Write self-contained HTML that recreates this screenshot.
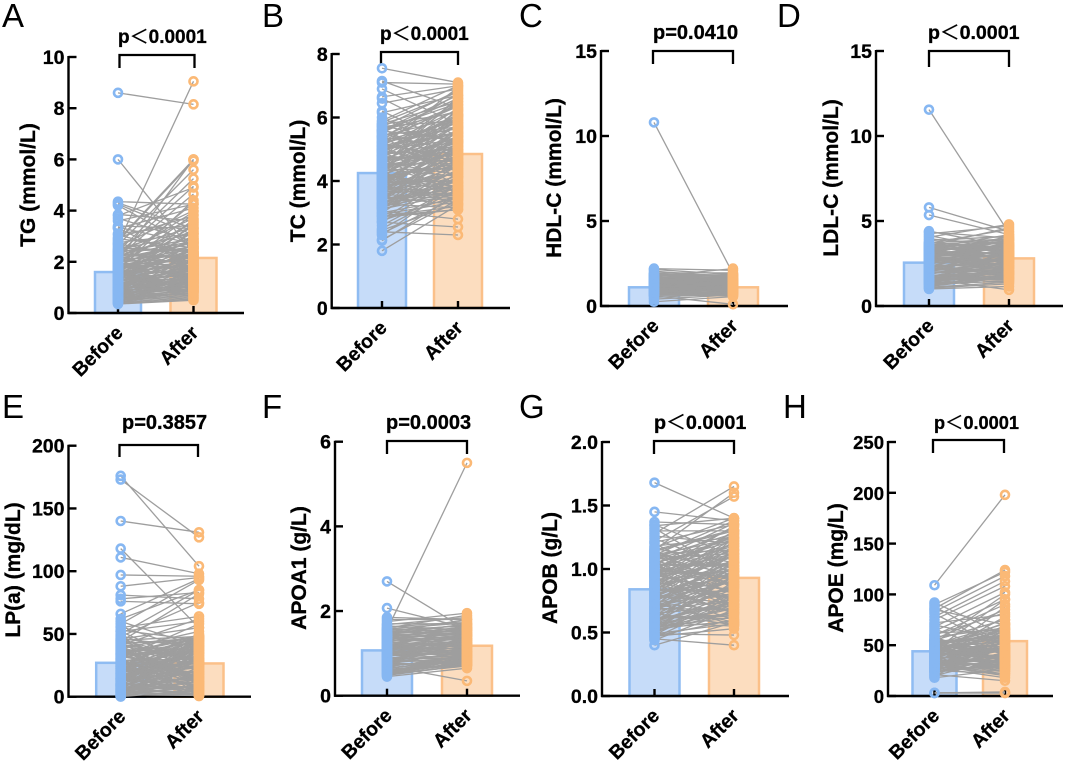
<!DOCTYPE html>
<html lang="en">
<head>
<meta charset="utf-8">
<title>Lipid measures before and after treatment</title>
<style>
html,body{margin:0;padding:0;background:#fff}
svg{display:block}
text{font-family:"Liberation Sans","Noto Sans CJK SC",sans-serif;fill:#000}
.letter{font-size:33px;font-weight:400}
.ytitle{font-size:21px;font-weight:700;text-anchor:middle;stroke:#000;stroke-width:.3px}
.p{font-weight:700;stroke:#000;stroke-width:.3px}
.lt{font-weight:400}
.b{font-weight:700;stroke:#000;stroke-width:.3px}
.bracket{fill:none;stroke:#000;stroke-width:2.3}
</style>
</head>
<body>
<svg id="fig" width="1065" height="761" viewBox="0 0 1065 761" xmlns="http://www.w3.org/2000/svg">
<rect width="1065" height="761" fill="#fff"/>

<g id="panel-a">
<text class="letter" x="2" y="27">A</text>
<text class="ytitle" transform="translate(35 185) rotate(-90)">TG (mmol/L)</text>
<text class="p" x="118" y="43" font-size="19">p<tspan class="lt">＜</tspan>0.0001</text>
<path class="bracket" d="M119.5 68V55H194.5V68"/>
</g>

<g id="panel-b">
<text class="letter" x="262" y="27">B</text>
<text class="ytitle" transform="translate(305 181) rotate(-90)">TC (mmol/L)</text>
<text class="p" x="380" y="40" font-size="19">p<tspan class="lt">＜</tspan>0.0001</text>
<path class="bracket" d="M381 65V52H458V65"/>
</g>

<g id="panel-c">
<text class="letter" x="519" y="27">C</text>
<text class="ytitle" transform="translate(561 178) rotate(-90)">HDL-C (mmol/L)</text>
<text class="p" x="653" y="39" font-size="20">p=0.0410</text>
<path class="bracket" d="M653 64V51H733V64"/>
</g>

<g id="panel-d">
<text class="letter" x="777" y="27">D</text>
<text class="ytitle" transform="translate(838 178) rotate(-90)">LDL-C (mmol/L)</text>
<text class="p" x="928" y="39" font-size="19.6">p<tspan class="lt">＜</tspan>0.0001</text>
<path class="bracket" d="M929 67V51H1009V67"/>
</g>

<g id="panel-e">
<text class="letter" x="2" y="418">E</text>
<text class="ytitle" transform="translate(20 570) rotate(-90)">LP(a) (mg/dL)</text>
<text class="p" x="122" y="429" font-size="20">p=0.3857</text>
<path class="bracket" d="M119.5 457V445H198V457"/>
</g>

<g id="panel-f">
<text class="letter" x="262" y="418">F</text>
<text class="ytitle" transform="translate(306 568) rotate(-90)">APOA1 (g/L)</text>
<text class="p" x="386" y="429" font-size="20">p=0.0003</text>
<path class="bracket" d="M387 454V441H467V454"/>
</g>

<g id="panel-g">
<text class="letter" x="519" y="418">G</text>
<text class="ytitle" transform="translate(557 568) rotate(-90)">APOB (g/L)</text>
<text class="p" x="654" y="429" font-size="19.8">p<tspan class="lt">＜</tspan>0.0001</text>
<path class="bracket" d="M654 454V441H734V454"/>
</g>

<g id="panel-h">
<text class="letter" x="783" y="418">H</text>
<text class="ytitle" transform="translate(843 568) rotate(-90)">APOE (mg/L)</text>
<text class="p" x="934" y="429" font-size="18.2">p<tspan class="lt">＜</tspan>0.0001</text>
<path class="bracket" d="M933 453V440H1004V453"/>
</g>
</svg>

<script>
const categories = ['Before', 'After'];

const tgTicks = ['0', '2', '4', '6', '8', '10'];
const tgMeans = [1.6, 2.15];
const tgBefore = [8.60,2.70,6.00,4.35,4.30,4.25,4.20,3.85,3.80,3.70,
3.60,3.40,3.35,3.32,3.30,3.10,3.05,2.95,2.90,2.85,
2.80,2.75,2.70,2.65,2.60,2.55,2.50,2.45,2.40,2.38,
2.35,2.30,2.25,2.22,2.20,2.15,2.12,2.10,2.05,2.00,
1.98,1.95,1.90,1.88,1.85,1.80,1.78,1.75,1.70,1.68,
1.65,1.60,1.58,1.55,1.50,1.48,1.45,1.42,1.40,1.35,
1.32,1.30,1.28,1.25,1.22,1.20,1.18,1.15,1.12,1.10,
1.08,1.05,1.02,1.00,0.98,0.95,0.92,0.90,0.88,0.85,
0.82,0.80,0.78,0.75,0.72,0.70,0.68,0.65,0.62,0.60,
0.58,0.55,0.52,0.50,0.48,0.45,0.42,0.40,0.38,0.35,
2.48,2.42,2.36,2.30,2.26,2.18,2.14,2.08,2.02,1.96,
1.92,1.86,1.82,1.76,1.72,1.66,1.62,1.56,1.52,1.46,
1.44,1.38,1.34,1.28,1.26,1.20,1.16,1.12,1.08,1.04,
1.00,0.96,0.94,0.90,0.86,0.84,0.80,0.76,0.74,0.70,
0.66,0.64,0.60,0.56,0.54,1.50,1.30,1.10,0.90,1.70];
const tgAfter = [8.15,9.05,2.35,4.25,3.30,3.05,2.60,3.60,4.90,2.80,
4.25,3.30,2.70,1.90,4.10,3.45,2.30,3.80,2.55,6.00,
5.95,3.10,2.20,5.60,4.00,2.40,3.35,1.80,5.25,2.90,
3.70,4.95,2.15,3.20,4.65,1.70,2.75,3.95,6.00,2.50,
1.60,3.55,4.30,2.05,3.00,1.95,3.85,2.65,1.50,4.40,
2.85,1.85,3.40,2.25,1.40,3.15,2.10,3.65,1.75,2.45,
1.30,2.95,1.65,3.50,2.00,1.20,2.70,1.55,3.25,1.10,
2.30,1.45,2.60,1.00,1.90,2.35,1.35,2.15,0.95,1.80,
1.25,2.05,0.90,1.60,1.15,0.85,1.75,1.05,0.80,1.50,
0.75,1.30,0.70,1.20,0.65,1.00,0.60,0.90,0.55,0.50,
3.10,2.50,2.90,2.20,2.80,1.95,2.60,2.30,2.05,2.75,
1.70,2.40,2.15,1.85,2.55,1.55,2.25,1.95,1.65,2.35,
1.45,2.10,1.80,1.50,2.00,1.35,1.75,1.60,1.25,1.90,
1.15,1.70,1.40,1.05,1.55,1.30,0.95,1.45,1.20,0.85,
1.35,1.10,0.90,1.25,0.80,2.50,1.00,1.85,1.40,2.20];

const tcTicks = ['0', '2', '4', '6', '8'];
const tcMeans = [4.25, 4.85];
const tcBefore = [7.55,7.15,7.10,6.90,6.65,6.60,6.45,6.20,6.15,6.00,
5.90,5.80,5.75,5.70,5.65,5.60,5.55,5.50,5.45,5.40,
5.35,5.30,5.25,5.20,5.15,5.10,5.05,5.00,4.95,4.92,
4.88,4.85,4.80,4.75,4.72,4.70,4.65,4.60,4.58,4.55,
4.50,4.48,4.45,4.40,4.38,4.35,4.30,4.28,4.25,4.20,
4.18,4.15,4.10,4.08,4.05,4.00,3.98,3.95,3.90,3.88,
3.85,3.80,3.78,3.75,3.70,3.68,3.65,3.60,3.58,3.55,
3.50,3.48,3.45,3.40,3.35,3.30,3.28,3.25,3.20,3.15,
3.10,3.05,3.00,2.95,2.90,2.85,2.80,2.75,2.70,2.60,
2.50,2.45,2.40,2.35,2.30,2.15,2.12,2.70,1.80,2.90,
5.85,5.78,5.72,5.62,5.58,5.52,5.42,5.38,5.32,5.22,
5.18,5.12,5.08,5.02,4.98,4.90,4.82,4.78,4.68,4.62,
4.56,4.52,4.46,4.42,4.36,4.32,4.26,4.22,4.16,4.12,
4.06,4.02,3.96,3.92,3.86,3.82,3.76,3.72,3.66,3.62,
3.56,3.52,3.46,3.42,3.38,3.32,3.26,3.22,3.18,3.12,
5.40,5.10,4.80,4.50,4.20,3.90,3.60,3.30,3.00,5.60,
5.25,4.95,4.65,4.35,4.05,3.75,3.45,3.15,5.00,4.40];
const tcAfter = [7.10,6.30,7.05,5.80,7.00,5.40,6.90,5.10,6.70,4.80,
7.00,6.50,5.20,6.85,4.50,6.20,6.60,4.90,5.70,4.10,
6.75,5.50,6.40,4.60,5.95,6.95,4.30,5.30,6.10,3.90,
6.55,5.00,5.85,4.70,6.30,3.60,5.60,6.00,4.20,5.40,
4.85,6.65,3.80,5.15,5.75,4.40,6.25,3.50,5.25,4.95,
3.70,5.55,4.55,6.05,3.40,4.75,5.35,4.00,5.05,3.30,
5.65,4.25,4.65,3.95,5.20,3.60,4.45,5.45,3.85,4.15,
3.25,4.80,3.75,5.10,3.45,4.35,3.15,4.60,3.65,4.05,
3.90,2.80,4.50,3.35,3.20,3.10,4.25,3.55,2.55,3.85,
3.75,3.30,2.30,3.50,3.95,3.40,3.60,4.15,3.25,3.10,
6.80,6.15,5.90,6.45,5.30,6.60,6.00,5.00,6.35,5.65,
4.70,6.25,5.50,5.85,4.40,6.05,5.25,6.50,4.85,5.75,
6.20,4.55,5.40,5.95,4.15,6.10,5.10,5.60,4.45,5.80,
3.95,5.30,4.75,5.55,4.25,5.05,4.65,3.75,5.35,4.90,
3.55,4.50,5.15,3.65,4.80,4.10,3.85,5.00,4.35,3.60,
6.40,5.70,4.60,5.20,3.80,5.45,4.30,4.00,3.45,6.70,
5.90,6.05,4.95,5.25,3.70,4.55,3.50,4.20,5.50,4.70];

const hdlTicks = ['0', '5', '10', '15'];
const hdlMeans = [1.1, 1.1];
const hdlBefore = [10.80,2.20,2.15,2.05,1.95,1.90,1.85,1.80,1.75,1.70,
1.65,1.60,1.58,1.55,1.50,1.48,1.45,1.42,1.40,1.38,
1.35,1.32,1.30,1.28,1.25,1.22,1.20,1.18,1.15,1.12,
1.10,1.08,1.05,1.02,1.00,0.98,0.95,0.92,0.90,0.88,
0.85,0.82,0.80,0.75,0.70,0.65,0.60,0.50,0.40,0.25,
1.88,1.82,1.78,1.72,1.68,1.62,1.56,1.52,1.47,1.43,
1.37,1.33,1.27,1.23,1.17,1.13,1.07,1.03,0.97,0.93,
0.87,0.83,0.78,0.73,0.68,0.63,1.41,1.21,1.01,0.81];
const hdlAfter = [1.90,2.10,1.85,1.70,1.95,1.60,1.80,1.50,2.20,1.45,
1.75,1.40,1.65,1.30,1.55,1.25,1.35,1.20,1.60,1.15,
1.45,1.10,1.50,1.05,1.35,1.00,1.30,0.95,1.40,0.90,
1.25,0.85,1.20,0.80,1.15,1.05,0.95,1.10,0.75,1.00,
0.90,0.70,1.05,0.80,0.85,0.60,0.10,0.75,0.65,0.55,
1.82,1.62,1.78,1.48,1.70,1.38,1.58,1.42,1.28,1.52,
1.18,1.36,1.12,1.26,1.08,1.32,0.98,1.16,0.88,1.06,
0.92,0.78,1.02,0.82,0.72,0.68,1.22,1.02,1.14,0.94];

const ldlTicks = ['0', '5', '10', '15'];
const ldlMeans = [2.55, 2.8];
const ldlBefore = [11.55,5.80,5.35,4.40,4.35,4.25,4.15,4.05,3.95,3.85,
3.75,3.70,3.65,3.60,3.55,3.50,3.45,3.40,3.35,3.30,
3.28,3.25,3.20,3.15,3.10,3.08,3.05,3.00,2.95,2.90,
2.88,2.85,2.80,2.75,2.70,2.65,2.60,2.55,2.50,2.45,
2.40,2.35,2.30,2.25,2.20,2.15,2.10,2.05,2.00,1.95,
1.90,1.85,1.80,1.75,1.70,1.65,1.60,1.55,1.50,1.45,
1.40,1.35,1.30,1.25,1.20,1.15,1.10,1.05,1.00,1.60,
3.72,3.62,3.52,3.42,3.32,3.22,3.12,3.02,2.92,2.82,
2.72,2.62,2.52,2.42,2.32,2.22,2.12,2.02,1.92,1.82,
1.72,1.62,1.52,1.42,1.32,3.58,3.38,3.18,2.98,2.78,
2.58,2.38,2.18,1.98,1.78,1.58,3.48,3.08,2.68,2.28];
const ldlAfter = [4.30,4.40,4.20,3.50,4.00,4.70,3.20,4.80,3.60,4.10,
3.40,4.50,3.30,3.90,4.60,3.00,3.70,4.20,3.50,2.80,
4.00,3.60,3.10,3.80,2.90,3.40,4.10,3.20,3.70,2.70,
3.50,3.00,3.90,2.60,3.30,2.80,3.60,2.50,3.10,3.40,
2.40,3.20,2.70,3.00,2.30,2.90,2.20,2.60,3.10,2.10,
2.50,2.80,2.00,2.40,2.70,1.90,2.20,1.80,2.60,1.70,
2.00,1.60,2.30,1.50,1.90,1.70,1.40,1.30,1.15,0.95,
3.95,3.45,3.75,3.25,3.55,3.05,3.35,2.85,3.15,2.65,
2.95,2.45,2.75,2.25,2.55,2.05,2.35,1.85,2.15,1.65,
1.95,1.75,1.55,1.85,1.45,3.15,3.85,2.55,3.65,2.35,
3.25,1.95,2.85,2.25,2.05,1.60,2.95,3.50,3.05,2.70];

const lpTicks = ['0', '50', '100', '150', '200'];
const lpMeans = [27, 26.5];
const lpBefore = [176,173,140,118,111,97,88,81,78,76,
66,62,60,58,56,55,53,52,50,49,
48,47,46,45,44,43,42,41,40,39,
38,37,36,35,34,33,32,31,30,29,
28,27,26.5,26,25,24.5,24,23,22.5,22,
21,20.5,20,19,18.5,18,17,16.5,16,15,
14.5,14,13,12.5,12,11,10.5,10,9.5,9,
8.5,8,7.5,7,6.5,6,5.5,5,4.5,4,
3.5,3,2.5,2,1.5,1,0.8,0.5,0.3,0.1,
27,34,18,9,43,52,24,6,14,30,
45,42,38,36,33,31,29,27,25,23,
22,21,19,18,17,16,15,14,13,12,
11,10,9,8,7,6,5,4,3,2,
1,0.5,40,35,30,26,20,15,10,5,
44,39,34,28,24,19,14,9,4,1.5,
46,41,37,32];
const lpAfter = [104,127,131,55,98,96,95,78,83,74,
94,85,40,93,35,64,45,60,85,28,
75,20,55,48,82,44,30,62,47,25,
52,15,46,10,49,40,22,58,47,30,
35,45,18,26,48,38,12,32,46,8,
27,42,17,33,5,47,23,38,13,29,
46,6,35,20,43,3,25,31,10,40,
16,28,2,37,21,8,44,12,26,4,
18,34,7,23,1,14,30,9,41,5,
19,36,0.5,15,11,24,50,2,39,6,
30,47,12,38,22,45,6,28,42,16,
34,9,44,24,3,37,18,48,11,29,
41,5,21,33,14,46,8,26,2,19,
36,10,15,43,4,31,25,39,7,17,
27,13,47,1,32,35,20,42,0.8,23,
40,28,11,37];

const apoa1Ticks = ['0', '2', '4', '6'];
const apoa1Means = [1.07, 1.18];
const apoa1Before = [2.70,2.07,1.55,1.85,1.80,1.75,1.70,1.68,1.65,1.62,
1.60,1.58,1.55,1.52,1.50,1.48,1.46,1.44,1.42,1.40,
1.38,1.36,1.34,1.32,1.30,1.28,1.26,1.24,1.22,1.20,
1.18,1.16,1.14,1.12,1.10,1.08,1.06,1.04,1.02,1.00,
0.98,0.96,0.94,0.92,0.90,0.88,0.86,0.84,0.82,0.80,
0.78,0.76,0.74,0.72,0.70,0.68,0.66,0.64,0.62,0.60,
0.58,0.55,0.52,0.48,0.45,
1.58,1.54,1.49,1.45,1.41,1.37,1.33,1.29,1.25,1.21,
1.17,1.13,1.09,1.05,1.01,0.97,0.93,0.89,0.85,0.81,
0.77,0.73,0.69,0.65,0.61,0.57,0.53,0.50,1.35,1.15,
0.95,0.75,1.45,1.25,1.05,0.85];
const apoa1After = [1.55,1.60,5.50,1.80,1.80,1.95,1.70,1.85,1.55,1.75,
1.90,1.50,1.65,1.45,1.80,1.60,1.40,1.70,1.35,1.55,
1.30,1.65,1.50,1.25,1.40,1.60,1.20,1.45,1.15,1.35,
1.55,1.10,1.30,1.05,1.25,1.45,1.00,1.20,0.95,1.35,
1.15,0.90,1.05,1.25,0.85,1.10,0.95,0.80,1.00,1.15,
0.90,0.75,1.05,0.85,0.35,0.95,0.80,0.90,0.75,0.85,
0.72,0.80,0.70,0.72,0.65,
1.72,1.42,1.68,1.32,1.58,1.22,1.48,1.12,1.38,1.02,
1.28,0.92,1.18,1.42,1.08,0.98,1.22,0.88,1.12,0.82,
1.02,0.78,0.92,0.86,0.74,0.84,0.76,0.72,1.52,0.96,
1.32,1.06,1.62,1.16,0.94,1.26];

const apobTicks = ['0.0', '0.5', '1.0', '1.5', '2.0'];
const apobMeans = [0.84, 0.93];
const apobBefore = [1.68,1.45,1.37,1.35,1.34,1.32,1.30,1.28,1.26,1.24,
1.22,1.21,1.20,1.18,1.17,1.16,1.15,1.14,1.13,1.12,
1.11,1.10,1.09,1.08,1.07,1.06,1.05,1.04,1.03,1.02,
1.01,1.00,0.99,0.98,0.97,0.96,0.95,0.94,0.93,0.92,
0.91,0.90,0.89,0.88,0.87,0.86,0.85,0.84,0.83,0.82,
0.81,0.80,0.79,0.78,0.77,0.76,0.75,0.74,0.73,0.72,
0.71,0.70,0.69,0.68,0.67,0.66,0.65,0.64,0.63,0.62,
0.61,0.60,0.59,0.58,0.57,0.56,0.55,0.54,0.53,0.52,
0.51,0.50,0.49,0.48,0.47,0.46,0.45,0.44,0.40,0.85,
0.95,0.75,1.05,0.65,0.90,0.80,1.10,0.70,1.00,0.60,
1.15,1.13,1.11,1.09,1.07,1.05,1.03,1.01,0.99,0.97,
0.95,0.93,0.91,0.89,0.87,0.85,0.83,0.81,0.79,0.77,
0.75,0.73,0.71,0.69,0.67,0.65,0.63,0.61,0.59,0.57,
0.55,0.53,0.51,0.49,0.47,1.02,0.94,0.86,0.78,0.70,
0.62,0.54,1.08,0.98,0.88,0.68,0.58,0.74,0.84,0.96];
const apobAfter = [1.40,1.38,1.35,1.10,1.40,0.95,1.30,1.65,1.20,1.00,
1.57,1.35,0.90,1.25,1.40,1.05,1.60,1.30,0.85,1.15,
1.38,0.95,1.28,1.08,1.36,0.80,1.22,1.02,1.33,0.92,
1.18,1.26,0.75,1.12,1.34,0.98,1.20,0.70,1.06,1.30,
0.88,1.16,1.24,0.65,1.00,1.10,1.28,0.82,1.14,0.94,
0.60,1.22,1.04,0.78,1.18,0.90,0.72,1.08,0.58,0.96,
1.12,0.86,0.68,1.02,0.76,1.06,0.56,0.92,0.84,0.64,
0.98,0.74,0.88,0.55,0.94,0.70,0.82,0.62,0.78,0.90,
0.66,0.72,0.48,0.80,0.60,0.75,0.40,0.68,0.58,1.05,
0.82,0.98,0.70,1.15,0.76,1.00,0.87,1.25,0.93,0.72,
1.31,0.98,1.24,1.12,0.88,1.19,1.03,1.27,0.93,1.09,
0.83,1.15,0.99,1.21,0.79,1.05,0.89,1.13,0.73,0.97,
1.07,0.67,0.91,0.81,1.01,0.71,0.86,0.63,0.95,0.77,
0.69,0.59,0.75,0.57,0.53,0.87,1.17,0.65,1.03,0.85,
0.61,0.66,1.23,0.72,1.11,0.94,0.80,0.56,0.78,1.29];

const apoeTicks = ['0', '50', '100', '150', '200', '250'];
const apoeMeans = [44, 54];
const apoeBefore = [109,92,90,88,86,85,83,81,78,75,
72,70,68,66,64,62,60,58,56,55,
54,53,52,51,50,49,48,47,46,45,
44,43,42,41,40,39,38,37,36,35,
34,33,32,31,30,29,28,27,26,25,
24,23,22,21,20,19,18,3,3,3,
55,45,40,35,50,30,60,25,48,38,
42,52,33,46,28,
58,56,54,52,50,48,47,46,45,44,
43,42,41,40,39,38,37,36,35,34,
33,32,31,30,29,28,27,26,25,24,
51,49,43,37,33,30,47,41,35,29];
const apoeAfter = [198,60,122,50,124,70,118,45,113,108,
80,55,102,40,95,65,90,35,85,75,
48,60,100,42,68,53,38,72,58,95,
47,36,63,44,78,30,52,40,88,56,
34,46,70,25,50,38,28,62,43,22,
54,33,48,15,37,58,26,3,3,4,
75,35,52,28,66,20,82,30,46,24,
39,57,31,65,18,
67,42,58,36,63,49,31,55,44,61,
28,52,38,47,33,57,41,26,50,35,
45,30,54,39,24,48,34,43,29,37,
71,56,66,46,40,32,36,60,27,22];

const NS = 'http://www.w3.org/2000/svg';
const BLUE_STROKE = '#8fbcf2', BLUE_FILL = '#c6dcf9', BLUE_MARK = '#86b7f2';
const ORANGE_STROKE = '#fbc089', ORANGE_FILL = '#fcddbf', ORANGE_MARK = '#fbb976';
const LINE_GREY = '#9e9e9e';

function mk(tag, attrs, parent) {
  const el = document.createElementNS(NS, tag);
  for (const k in attrs) el.setAttribute(k, attrs[k]);
  parent.appendChild(el);
  return el;
}

function drawPanel(p) {
  const host = document.getElementById(p.id);
  const yScale = v => p.base - (v / p.ymax) * (p.base - p.top);
  const xScale = i => (i === 0 ? p.xBefore : p.xAfter);
  const fills = [BLUE_FILL, ORANGE_FILL], strokes = [BLUE_STROKE, ORANGE_STROKE], marks = [BLUE_MARK, ORANGE_MARK];

  // bars
  p.means.forEach((m, i) => {
    const bar = mk('rect', {
      x: xScale(i) - p.barW / 2 + 1, y: yScale(m),
      width: p.barW - 2, height: p.base - yScale(m),
      fill: fills[i], stroke: strokes[i], 'stroke-width': 2.5
    }, host);
    
    
  });

  // axes
  const axisG = mk('g', { stroke: '#000', 'stroke-width': 2.4, fill: 'none' }, host);
  
  
  const yLine = mk('line', { x1: p.axisX, x2: p.axisX, y1: p.top - 1, y2: p.base + 1 }, axisG);
  
  
  const xLine = mk('line', { x1: p.axisX - 1, x2: p.right, y1: p.base, y2: p.base }, axisG);
  
  

  const n = p.ticks.length;
  p.ticks.forEach((t, i) => {
    const v = p.ymax * i / (n - 1);
    const y = yScale(v);
    const tick = mk('line', { x1: p.axisX, x2: p.axisX + 8, y1: y, y2: y }, axisG);
    
    
    const lab = mk('text', { class: 'b', x: p.axisX - 4, y: y + 7, 'text-anchor': 'end', 'font-size': p.tickFont }, host);
    
    
    lab.textContent = t;
  });

  categories.forEach((c, i) => {
    const x = xScale(i);
    const tick = mk('line', { x1: x, x2: x, y1: p.base - 7, y2: p.base }, axisG);
    
    
    const lab = mk('text', {
      class: 'b', 'text-anchor': 'end', 'font-size': 19.5,
      transform: 'translate(' + (x + 6) + ' ' + (p.base + 21) + ') rotate(-45)'
    }, host);
    
    
    lab.textContent = c;
  });

  // paired lines
  const lines = mk('g', { stroke: LINE_GREY, 'stroke-width': 1.3 }, host);
  
  
  p.before.forEach((b, i) => {
    const ln = mk('line', { x1: p.xBefore, y1: yScale(b), x2: p.xAfter, y2: yScale(p.after[i]) }, lines);
    
    
  });

  // markers
  [p.before, p.after].forEach((series, s) => {
    const g = mk('g', { fill: 'none', stroke: marks[s], 'stroke-width': 2.6 }, host);
    
    
    series.forEach(v => {
      const c = mk('circle', { cx: xScale(s), cy: yScale(v), r: 4 }, g);
      
      
    });
  });
}

const panels = [
  { id: 'panel-a', axisX: 68.5, top: 57, base: 313, right: 244, xBefore: 118, xAfter: 193.5, barW: 48, ymax: 10, tickFont: 19.5, ticks: tgTicks, means: tgMeans, before: tgBefore, after: tgAfter },
  { id: 'panel-b', axisX: 331.7, top: 54, base: 308, right: 510, xBefore: 382, xAfter: 458, barW: 50, ymax: 8, tickFont: 19.5, ticks: tcTicks, means: tcMeans, before: tcBefore, after: tcAfter },
  { id: 'panel-c', axisX: 601, top: 51, base: 306, right: 788, xBefore: 654, xAfter: 733, barW: 52, ymax: 15, tickFont: 19.5, ticks: hdlTicks, means: hdlMeans, before: hdlBefore, after: hdlAfter },
  { id: 'panel-d', axisX: 876, top: 51, base: 306, right: 1063, xBefore: 929, xAfter: 1009, barW: 52, ymax: 15, tickFont: 19.5, ticks: ldlTicks, means: ldlMeans, before: ldlBefore, after: ldlAfter },
  { id: 'panel-e', axisX: 68.5, top: 445.7, base: 696.7, right: 251, xBefore: 120.7, xAfter: 199, barW: 51, ymax: 200, tickFont: 19.5, ticks: lpTicks, means: lpMeans, before: lpBefore, after: lpAfter },
  { id: 'panel-f', axisX: 335, top: 441.7, base: 695.7, right: 520, xBefore: 387, xAfter: 467, barW: 52, ymax: 6, tickFont: 19.5, ticks: apoa1Ticks, means: apoa1Means, before: apoa1Before, after: apoa1After },
  { id: 'panel-g', axisX: 602, top: 442, base: 696, right: 789, xBefore: 654.5, xAfter: 734, barW: 52, ymax: 2, tickFont: 19.5, ticks: apobTicks, means: apobMeans, before: apobBefore, after: apobAfter },
  { id: 'panel-h', axisX: 888, top: 442, base: 696, right: 1053, xBefore: 934.5, xAfter: 1005, barW: 46, ymax: 250, tickFont: 18.5, ticks: apoeTicks, means: apoeMeans, before: apoeBefore, after: apoeAfter }
];
panels.forEach(drawPanel);
</script>
</body>
</html>
